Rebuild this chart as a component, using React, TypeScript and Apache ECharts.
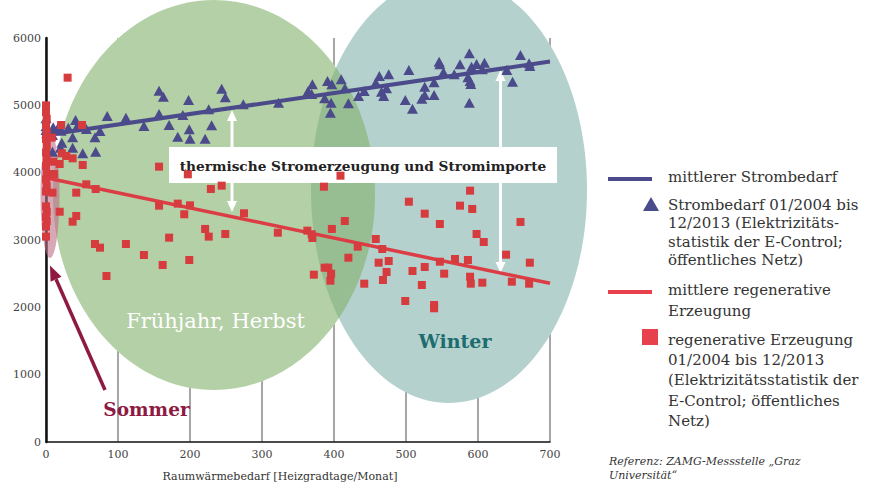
import React, { useEffect, useRef } from "react";
import * as echarts from "echarts";

const FONT = '"DejaVu Serif", serif';

// Strombedarf (monthly, 01/2004 - 12/2013): [Heizgradtage, GWh]
const strombedarf: [number, number][] = [
  [0, 4810], [0, 4690], [0, 4635], [1, 4585], [3, 4560], [9, 4560], [10, 4673], [10, 4644],
  [18, 4693], [21, 4624], [9, 4312], [20, 4371], [22, 4446], [31, 4668], [37, 4525], [37, 4371],
  [41, 4782], [43, 4683], [51, 4288], [56, 4649], [68, 4525], [69, 4312], [75, 4619], [85, 4842],
  [111, 4817], [136, 4693], [157, 5218], [157, 4871], [163, 5128], [171, 4708], [183, 4535],
  [190, 4857], [198, 5079], [199, 4644], [200, 4505], [221, 4505], [226, 4940], [230, 4703],
  [244, 5247], [249, 5119], [274, 5015], [323, 5040], [364, 5213], [369, 5169], [370, 5312],
  [387, 5104], [391, 5362], [395, 4891], [396, 5040], [397, 5312], [410, 5386], [415, 5252],
  [420, 5030], [434, 5139], [442, 5213], [458, 5337], [463, 5436], [466, 5203], [469, 5139],
  [473, 5253], [476, 5461], [499, 5079], [504, 5525], [509, 4950], [522, 5099], [526, 5154],
  [526, 5277], [539, 5154], [539, 5342], [546, 5648], [547, 5609], [552, 5490], [567, 5461],
  [575, 5609], [586, 5416], [588, 5040], [588, 5773], [589, 5362], [590, 5317], [591, 5574],
  [598, 5614], [606, 5535], [609, 5634], [640, 5525], [648, 5351], [659, 5748], [671, 5624],
  [672, 5584],
];

// regenerative Erzeugung (monthly, 01/2004 - 12/2013)
const regenerativ: [number, number][] = [
  [0, 5000], [0, 4900], [1, 4800], [0, 4700], [1, 4600], [0, 4500], [1, 4400], [0, 4300],
  [1, 4200], [0, 4100], [1, 3980], [0, 3900], [1, 3800], [0, 3720], [0, 3500], [1, 3420],
  [0, 3340], [1, 3280], [0, 3200], [0, 3050],
  [8, 4520], [10, 4163], [11, 3980], [9, 3703],
  [19, 4129], [19, 3420], [21, 4708], [22, 4288], [28, 4248], [30, 5411], [37, 4213], [37, 3272],
  [42, 3703], [42, 3357], [50, 4708], [51, 4114], [56, 3827], [68, 2941], [69, 3757], [75, 2886],
  [84, 2465], [111, 2941], [136, 2777], [157, 4089], [157, 3510], [162, 2629], [171, 3035],
  [183, 3540], [192, 3382], [197, 3976], [199, 2703], [200, 3515], [221, 3164], [226, 3050],
  [229, 3758], [244, 3807], [249, 3089], [275, 3397], [322, 3109], [363, 3139], [369, 3085],
  [370, 3030], [372, 2485], [386, 3792], [387, 2589], [392, 2589], [395, 2396], [396, 2500],
  [397, 3164], [409, 3955], [415, 3282], [420, 2737], [433, 2901], [442, 2351], [458, 3015],
  [462, 2663], [467, 2866], [468, 2406], [473, 2525], [476, 2688], [499, 2094], [504, 3569],
  [509, 2540], [522, 2332], [526, 3391], [526, 2599], [539, 2035], [539, 1986], [547, 3238],
  [547, 2678], [553, 2500], [568, 2718], [575, 3510], [586, 2703], [589, 3733], [589, 2455],
  [590, 2351], [592, 3461], [598, 3089], [606, 2366], [608, 2970], [639, 2782], [647, 2381],
  [659, 3268], [671, 2351], [672, 2663],
];

const mittlererStrombedarf: [number, number][] = [[0, 4560], [700, 5650]];
const mittlereErzeugung: [number, number][] = [[0, 3925], [700, 2357]];

const legendStrombedarfLinie = ["mittlerer Strombedarf"];
const legendStrombedarfPunkte = [
  "Strombedarf 01/2004 bis",
  "12/2013 (Elektrizitäts-",
  "statistik der E-Control;",
  "öffentliches Netz)",
];
const legendErzeugungLinie = ["mittlere regenerative", "Erzeugung"];
const legendErzeugungPunkte = [
  "regenerative Erzeugung",
  "01/2004 bis 12/2013",
  "(Elektrizitätsstatistik der",
  "E-Control; öffentliches",
  "Netz)",
];
const referenzText = ["Referenz: ZAMG-Messstelle „Graz", "Universität“"];

const BLUE = "#4b4a8b";
const RED = "#d63b3e";
const LEGEND_RED = "#e8414e";

function textLines(lines: string[], x: number, y0: number, step: number, font: string, fill: string) {
  return lines.map((t, i) => ({
    type: "text",
    z: 5,
    style: { text: t, x, y: y0 + i * step, font, fill, verticalAlign: "middle", align: "left" },
  }));
}

function arrowDown(x: number, y1: number, y2: number, headH: number, headW: number, color: string, lw: number) {
  return [
    { type: "line", z: 1, shape: { x1: x, y1, x2: x, y2: y2 - headH + 1 }, style: { stroke: color, lineWidth: lw } },
    { type: "polygon", z: 1, shape: { points: [[x - headW / 2, y2 - headH], [x + headW / 2, y2 - headH], [x, y2]] }, style: { fill: color } },
  ];
}
function arrowUp(x: number, y1: number, y2: number, headH: number, headW: number, color: string, lw: number) {
  return [
    { type: "line", z: 1, shape: { x1: x, y1: y1 + headH - 1, x2: x, y2 }, style: { stroke: color, lineWidth: lw } },
    { type: "polygon", z: 1, shape: { points: [[x - headW / 2, y1 + headH], [x + headW / 2, y1 + headH], [x, y1]] }, style: { fill: color } },
  ];
}

export default function App() {
  const ref = useRef<HTMLDivElement>(null);
  useEffect(() => {
    if (!ref.current) return;
    const chart = echarts.init(ref.current, undefined, { renderer: "svg" });

    // Sommer arrow geometry
    const tail = [105, 390];
    const tip = [50, 265.5];
    const dx = tip[0] - tail[0];
    const dy = tip[1] - tail[1];
    const len = Math.sqrt(dx * dx + dy * dy);
    const ux = dx / len;
    const uy = dy / len;
    const hl = 15;
    const hw = 6;
    const bx = tip[0] - ux * hl;
    const by = tip[1] - uy * hl;
    const px = -uy;
    const py = ux;

    const graphic: any[] = [
      // ellipses
      { type: "ellipse", z: 1, shape: { cx: 214, cy: 195, rx: 161, ry: 195 }, style: { fill: "#ffffff" } },
      { type: "ellipse", z: 1, shape: { cx: 449, cy: 190, rx: 138, ry: 213 }, style: { fill: "#b4d1ce" } },
      { type: "ellipse", z: 1, shape: { cx: 214, cy: 195, rx: 161, ry: 195 }, style: { fill: "rgba(130,177,107,0.6)" } },
      { type: "ellipse", z: 1, shape: { cx: 50, cy: 195, rx: 9.5, ry: 63 }, style: { fill: "rgba(190,110,135,0.6)" } },
      // white arrows
      ...arrowUp(232, 110, 147, 11, 10, "#ffffff", 3),
      ...arrowDown(232, 183, 212, 11, 10, "#ffffff", 3),
      ...arrowUp(500.5, 70, 147, 11, 10, "#ffffff", 3),
      ...arrowDown(500.5, 183, 273, 11, 10, "#ffffff", 3),
      // annotation box
      { type: "rect", z: 1, shape: { x: 169, y: 147, width: 388, height: 36 }, style: { fill: "#ffffff" } },
      {
        type: "text", z: 1,
        style: { text: "thermische Stromerzeugung und Stromimporte", x: 363, y: 166, align: "center", verticalAlign: "middle", font: `bold 13.7px ${FONT}`, fill: "#222222" },
      },
      {
        type: "text", z: 1,
        style: { text: "Frühjahr, Herbst", x: 215.5, y: 321, align: "center", verticalAlign: "middle", font: `21px ${FONT}`, fill: "#ffffff" },
      },
      {
        type: "text", z: 1,
        style: { text: "Winter", x: 455, y: 341, align: "center", verticalAlign: "middle", font: `bold 19px ${FONT}`, fill: "#1d6c6e" },
      },
      {
        type: "text", z: 5,
        style: { text: "Sommer", x: 146.5, y: 409, align: "center", verticalAlign: "middle", font: `bold 18.5px ${FONT}`, fill: "#8e1a42" },
      },
      // Sommer arrow
      { type: "line", z: 5, shape: { x1: tail[0], y1: tail[1], x2: bx, y2: by }, style: { stroke: "#8e1a42", lineWidth: 3.5 } },
      {
        type: "polygon", z: 5,
        shape: { points: [[tip[0], tip[1]], [bx + px * hw, by + py * hw], [bx - px * hw, by - py * hw]] },
        style: { fill: "#8e1a42" },
      },
      // x axis name
      {
        type: "text", z: 5,
        style: { text: "Raumwärmebedarf [Heizgradtage/Monat]", x: 280, y: 476, align: "center", verticalAlign: "middle", font: `11px ${FONT}`, fill: "#333333" },
      },
      // legend
      { type: "line", z: 5, shape: { x1: 608, y1: 179, x2: 652, y2: 179 }, style: { stroke: BLUE, lineWidth: 4 } },
      ...textLines(legendStrombedarfLinie, 668, 177, 19.5, `15px ${FONT}`, "#333333"),
      { type: "polygon", z: 5, shape: { points: [[651, 197], [659, 211], [643, 211]] }, style: { fill: BLUE } },
      ...textLines(legendStrombedarfPunkte, 668, 205, 18.3, `15px ${FONT}`, "#333333"),
      { type: "line", z: 5, shape: { x1: 608, y1: 292, x2: 652, y2: 292 }, style: { stroke: LEGEND_RED, lineWidth: 4 } },
      ...textLines(legendErzeugungLinie, 668, 290, 20.5, `15px ${FONT}`, "#333333"),
      { type: "rect", z: 5, shape: { x: 642, y: 329, width: 16, height: 16 }, style: { fill: LEGEND_RED } },
      ...textLines(legendErzeugungPunkte, 668, 339.5, 20.4, `15px ${FONT}`, "#333333"),
      ...textLines(referenzText, 609, 461, 14.5, `italic 11px ${FONT}`, "#333333"),
    ];

    chart.setOption({
      animation: false,
      textStyle: { fontFamily: FONT },
      grid: { left: 46, right: 328, top: 38, bottom: 40, containLabel: false },
      xAxis: {
        type: "value",
        min: 0,
        max: 700,
        interval: 100,
        axisLine: { show: true, onZero: false, lineStyle: { color: "#111111", width: 1.5 } },
        axisTick: { show: false },
        axisLabel: { color: "#444444", fontSize: 11, margin: 7, fontFamily: FONT, formatter: (v: number) => String(v) },
        splitLine: { show: true, lineStyle: { color: "#8a8a8a", width: 1.5 } },
      },
      yAxis: {
        type: "value",
        min: 0,
        max: 6000,
        interval: 1000,
        axisLine: { show: true, lineStyle: { color: "#111111", width: 2.5 } },
        axisTick: { show: false },
        axisLabel: { color: "#444444", fontSize: 11, margin: 5, fontFamily: FONT, formatter: (v: number) => String(v) },
        splitLine: { show: false },
      },
      series: [
        {
          name: "mittlerer Strombedarf",
          type: "line",
          data: mittlererStrombedarf,
          symbol: "none",
          z: 3,
          lineStyle: { color: BLUE, width: 4 },
        },
        {
          name: "mittlere regenerative Erzeugung",
          type: "line",
          data: mittlereErzeugung,
          symbol: "none",
          z: 3,
          lineStyle: { color: "#dc3c44", width: 3.5 },
        },
        {
          name: "Strombedarf 01/2004 bis 12/2013",
          type: "scatter",
          data: strombedarf,
          symbol: "triangle",
          symbolSize: [11, 10],
          z: 4,
          itemStyle: { color: BLUE, opacity: 1 },
        },
        {
          name: "regenerative Erzeugung 01/2004 bis 12/2013",
          type: "scatter",
          data: regenerativ,
          symbol: "rect",
          symbolSize: 8,
          z: 4,
          itemStyle: { color: RED, opacity: 1 },
        },
      ],
      graphic,
    });

    return () => chart.dispose();
  }, []);

  return (
    <div
      ref={ref}
      style={{ position: "fixed", left: 0, top: 0, width: 878, height: 482, background: "#ffffff" }}
    />
  );
}
